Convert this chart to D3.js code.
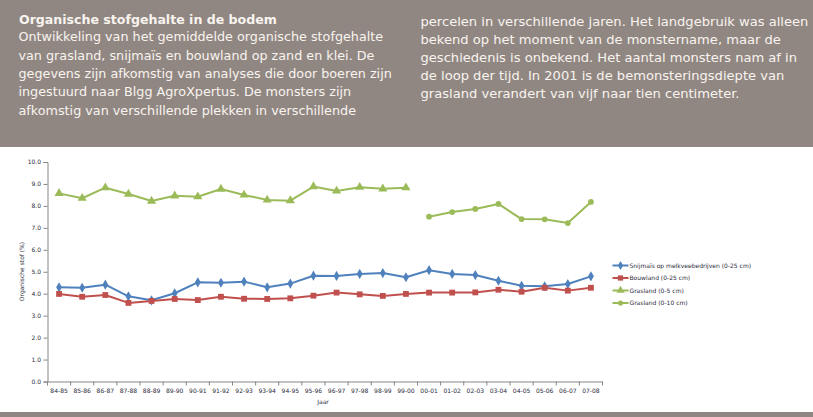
<!DOCTYPE html>
<html>
<head>
<meta charset="utf-8">
<script src="https://cdn.jsdelivr.net/npm/d3@7/dist/d3.min.js"></script>
<style>
  html, body { margin: 0; padding: 0; background: #ffffff; }
  svg { display: block; }
</style>
</head>
<body>
<svg id="chart" width="813" height="417"></svg>
<script>
// ---------- DATA ----------
const categories = ["84-85","85-86","86-87","87-88","88-89","89-90","90-91","91-92","92-93","93-94","94-95","95-96","96-97","97-98","98-99","99-00","00-01","01-02","02-03","03-04","04-05","05-06","06-07","07-08"];
const snijmais = [4.29,4.27,4.41,3.88,3.70,4.02,4.52,4.50,4.55,4.29,4.46,4.82,4.81,4.90,4.94,4.75,5.07,4.90,4.85,4.59,4.36,4.34,4.44,4.79];
const bouwland = [3.99,3.86,3.94,3.58,3.67,3.76,3.71,3.86,3.77,3.76,3.79,3.91,4.05,3.97,3.90,3.99,4.05,4.05,4.06,4.18,4.09,4.27,4.14,4.27];
const grasland5 = [8.57,8.35,8.83,8.54,8.22,8.46,8.42,8.77,8.50,8.27,8.24,8.88,8.68,8.85,8.78,8.83,null,null,null,null,null,null,null,null];
const grasland10 = [null,null,null,null,null,null,null,null,null,null,null,null,null,null,null,null,7.51,7.72,7.86,8.09,7.40,7.39,7.22,8.18];
const seriesNames = ["Snijmaïs op melkveebedrijven (0-25 cm)","Bouwland (0-25 cm)","Grasland (0-5 cm)","Grasland (0-10 cm)"];
const yTicks = [0,1,2,3,4,5,6,7,8,9,10];
const yTitle = "Organische stof (%)";
const xTitle = "Jaar";
const headerTitle = "Organische stofgehalte in de bodem";
const headerLeft = [
  "Ontwikkeling van het gemiddelde organische stofgehalte",
  "van grasland, snijmaïs en bouwland op zand en klei. De",
  "gegevens zijn afkomstig van analyses die door boeren zijn",
  "ingestuurd naar Blgg AgroXpertus. De monsters zijn",
  "afkomstig van verschillende plekken in verschillende"
];
const headerRight = [
  "percelen in verschillende jaren. Het landgebruik was alleen",
  "bekend op het moment van de monstername, maar de",
  "geschiedenis is onbekend. Het aantal monsters nam af in",
  "de loop der tijd. In 2001 is de bemonsteringsdiepte van",
  "grasland verandert van vijf naar tien centimeter."
];

// ---------- STYLE ----------
const W = 813, H = 417;
const headerBg = "#918782";
const headerFg = "#f8f4ef";
const colors = ["#4f81bd","#c0504d","#9bbb59","#9bbb59"];
const symbols = [d3.symbolDiamond, d3.symbolSquare, d3.symbolTriangle, d3.symbolCircle];
const symSizes = [30, 34, 36, 26];
const font = "'DejaVu Sans', Verdana, sans-serif";

const svg = d3.select("#chart");

// header band
svg.append("rect").attr("x",0).attr("y",0).attr("width",W).attr("height",147).attr("fill",headerBg);
// bottom band
svg.append("rect").attr("x",0).attr("y",412).attr("width",W).attr("height",5).attr("fill",headerBg);

// header text, sized to match reference line widths
function fitSize(text, target, weight) {
  const p = svg.append("text").attr("font-family",font).attr("font-size",13)
    .attr("font-weight",weight || "normal").text(text);
  const w = p.node().getComputedTextLength();
  p.remove();
  return 13 * target / w;
}
const fsL = fitSize(headerLeft[0], 365);
const fsR = fitSize(headerRight[0], 388);
const fsT = fitSize(headerTitle, 258, "bold");

const hdr = svg.append("g").attr("font-family",font).attr("fill",headerFg);
hdr.append("text").attr("x",19).attr("y",24.4).attr("font-size",fsT).attr("font-weight","bold").text(headerTitle);
headerLeft.forEach((t,i) => {
  hdr.append("text").attr("x",18.5).attr("y",41.2 + i*18.35).attr("font-size",fsL).text(t);
});
headerRight.forEach((t,i) => {
  hdr.append("text").attr("x",420.5).attr("y",25.6 + i*18.2).attr("font-size",fsR).text(t);
});

// ---------- CHART ----------
const x = d3.scaleBand().domain(categories).range([47.5, 602.5]);
const y = d3.scaleLinear().domain([0,10]).range([381.5, 162]);
const cx = c => x(c) + x.bandwidth()/2;

const axisColor = "#868686";
const labelColor = "#2b2b3b";

// y axis
const yAxis = svg.append("g").attr("transform","translate(47.5,0)")
  .call(d3.axisLeft(y).tickValues(yTicks).tickFormat(d3.format(".1f")).tickSize(4).tickPadding(2.5));
yAxis.select(".domain").attr("stroke",axisColor);
yAxis.selectAll(".tick line").attr("stroke",axisColor);
yAxis.selectAll("text").attr("font-family",font).attr("font-size",6).attr("fill",labelColor);

// x axis (labels at centers, ticks at boundaries)
const xAxis = svg.append("g").attr("transform","translate(0,381.5)")
  .call(d3.axisBottom(x).tickSize(0).tickPadding(7));
xAxis.select(".domain").attr("stroke",axisColor);
xAxis.selectAll("text").attr("font-family",font).attr("font-size",6).attr("fill",labelColor);
const bounds = categories.map(c => x(c)).concat([x.range()[1]]);
svg.append("g").selectAll("line").data(bounds).join("line")
  .attr("x1",d=>d).attr("x2",d=>d).attr("y1",381.5).attr("y2",385.5)
  .attr("stroke",axisColor);

// axis titles
svg.append("text").attr("transform","translate(23.5,271.5) rotate(-90)")
  .attr("text-anchor","middle").attr("font-family",font).attr("font-size",6).attr("fill",labelColor).text(yTitle);
svg.append("text").attr("x",323).attr("y",404).attr("text-anchor","middle")
  .attr("font-family",font).attr("font-size",6).attr("fill",labelColor).text(xTitle);

// series
const allSeries = [snijmais, bouwland, grasland5, grasland10];
allSeries.forEach((vals, si) => {
  const pts = categories.map((c,i) => ({c, v: vals[i]}));
  const line = d3.line().defined(d => d.v !== null).x(d => cx(d.c)).y(d => y(d.v));
  svg.append("path").datum(pts).attr("d",line).attr("fill","none")
    .attr("stroke",colors[si]).attr("stroke-width",2).attr("stroke-linejoin","round");
  svg.append("g").selectAll("path").data(pts.filter(d => d.v !== null)).join("path")
    .attr("transform", d => `translate(${cx(d.c)},${y(d.v)})`)
    .attr("d", d3.symbol().type(symbols[si]).size(symSizes[si]))
    .attr("fill",colors[si]);
});

// legend
const legY = [265.5, 278, 290.5, 303];
const leg = svg.append("g");
seriesNames.forEach((n,i) => {
  leg.append("line").attr("x1",612.5).attr("x2",628.5).attr("y1",legY[i]).attr("y2",legY[i])
    .attr("stroke",colors[i]).attr("stroke-width",2);
  leg.append("path").attr("transform",`translate(620.5,${legY[i]})`)
    .attr("d", d3.symbol().type(symbols[i]).size(symSizes[i]*0.8)).attr("fill",colors[i]);
  leg.append("text").attr("x",629.5).attr("y",legY[i]+2.2)
    .attr("font-family",font).attr("font-size",6).attr("fill",labelColor).text(n);
});
</script>
</body>
</html>
